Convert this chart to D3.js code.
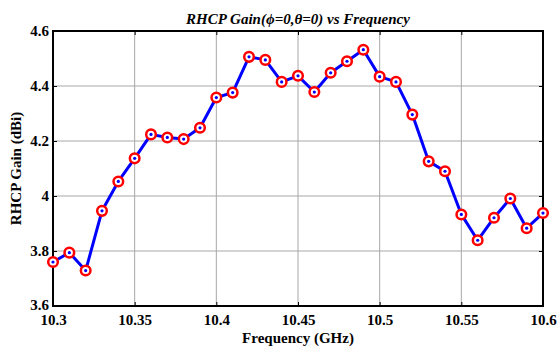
<!DOCTYPE html>
<html>
<head>
<meta charset="utf-8">
<script src="https://cdn.jsdelivr.net/npm/d3@7"></script>
<style>
  html, body { margin: 0; padding: 0; background: #fff; }
  svg { display: block; }
  text { font-family: "Liberation Serif", "Times New Roman", serif; font-weight: bold; fill: #000; }
</style>
</head>
<body>
<svg id="chart" width="560" height="347"></svg>
<script>
// Measured RHCP gain at boresight across the band
const frequency = [10.30, 10.31, 10.32, 10.33, 10.34, 10.35, 10.36, 10.37, 10.38, 10.39,
                   10.40, 10.41, 10.42, 10.43, 10.44, 10.45, 10.46, 10.47, 10.48, 10.49,
                   10.50, 10.51, 10.52, 10.53, 10.54, 10.55, 10.56, 10.57, 10.58, 10.59, 10.60];
const gain = [3.760, 3.794, 3.729, 3.946, 4.053, 4.137, 4.224, 4.213, 4.207, 4.248,
              4.358, 4.376, 4.506, 4.495, 4.415, 4.437, 4.378, 4.448, 4.490, 4.532,
              4.434, 4.415, 4.296, 4.126, 4.090, 3.933, 3.839, 3.921, 3.991, 3.883, 3.938];
const xTicks = [10.3, 10.35, 10.4, 10.45, 10.5, 10.55, 10.6];
const xTickLabels = ["10.3", "10.35", "10.4", "10.45", "10.5", "10.55", "10.6"];
const yTicks = [3.6, 3.8, 4.0, 4.2, 4.4, 4.6];
const yTickLabels = ["3.6", "3.8", "4", "4.2", "4.4", "4.6"];

const svg = d3.select("#chart");
const plotL = 53, plotR = 543, plotT = 31, plotB = 306;

const x = d3.scaleLinear().domain([10.3, 10.6]).range([plotL, plotR]);
const y = d3.scaleLinear().domain([3.6, 4.6]).range([plotB, plotT]);

// grid lines
const grid = svg.append("g");
grid.selectAll("line.gx").data(xTicks.slice(1, -1)).join("line")
  .attr("x1", d => x(d)).attr("x2", d => x(d))
  .attr("y1", plotT).attr("y2", plotB)
  .attr("stroke", "#a8a8a8").attr("stroke-width", 1);
grid.selectAll("line.gy").data(yTicks.slice(1, -1)).join("line")
  .attr("x1", plotL).attr("x2", plotR)
  .attr("y1", d => y(d)).attr("y2", d => y(d))
  .attr("stroke", "#a8a8a8").attr("stroke-width", 1);

// axes with inward ticks on all four sides
const fmtX = (d, i) => xTickLabels[i];
const fmtY = (d, i) => yTickLabels[i];
const axB = svg.append("g").attr("transform", `translate(0,${plotB})`)
  .call(d3.axisBottom(x).tickValues(xTicks).tickFormat(fmtX).tickSizeInner(-4).tickSizeOuter(0).tickPadding(8));
const axL = svg.append("g").attr("transform", `translate(${plotL},0)`)
  .call(d3.axisLeft(y).tickValues(yTicks).tickFormat(fmtY).tickSizeInner(-4).tickSizeOuter(0).tickPadding(4));
const axT = svg.append("g").attr("transform", `translate(0,${plotT})`)
  .call(d3.axisTop(x).tickValues(xTicks).tickFormat("").tickSizeInner(-4).tickSizeOuter(0));
const axR = svg.append("g").attr("transform", `translate(${plotR},0)`)
  .call(d3.axisRight(y).tickValues(yTicks).tickFormat("").tickSizeInner(-4).tickSizeOuter(0));

[axB, axL, axT, axR].forEach(a => {
  a.select(".domain").remove();
  a.selectAll(".tick line").attr("stroke", "#000").attr("stroke-width", 1);
  a.selectAll("text").attr("font-size", 15).attr("font-family", "Liberation Serif").attr("font-weight", "bold").attr("fill", "#000");
});
axB.selectAll("text").attr("dy", "0.71em");
// lift the lowest y label a little so it clears the first x label
axL.selectAll(".tick text").filter(d => d === yTicks[0]).attr("dy", "0.2em");

// plot box
svg.append("rect")
  .attr("x", plotL).attr("y", plotT)
  .attr("width", plotR - plotL).attr("height", plotB - plotT)
  .attr("fill", "none").attr("stroke", "#000").attr("stroke-width", 2);

// series
const pts = frequency.map((f, i) => [f, gain[i]]);
svg.append("path").datum(pts)
  .attr("d", d3.line().x(d => x(d[0])).y(d => y(d[1])))
  .attr("fill", "none").attr("stroke", "#0000ff").attr("stroke-width", 3)
  .attr("stroke-linejoin", "round");
svg.append("g").selectAll("circle").data(pts).join("circle")
  .attr("cx", d => x(d[0])).attr("cy", d => y(d[1])).attr("r", 4.8)
  .attr("fill", "#fff").attr("stroke", "#ff0000").attr("stroke-width", 2.5);
svg.append("g").selectAll("circle").data(pts).join("circle")
  .attr("cx", d => x(d[0])).attr("cy", d => y(d[1])).attr("r", 1.6)
  .attr("fill", "#0000ff");

// titles
svg.append("text")
  .attr("x", (plotL + plotR) / 2).attr("y", 24)
  .attr("text-anchor", "middle").attr("font-size", 15).attr("font-style", "italic")
  .text("RHCP Gain(\u03D5=0,\u03B8=0) vs Frequency");
svg.append("text")
  .attr("x", (plotL + plotR) / 2).attr("y", 343)
  .attr("text-anchor", "middle").attr("font-size", 15)
  .text("Frequency (GHz)");
svg.append("text")
  .attr("transform", `translate(21,${(plotT + plotB) / 2}) rotate(-90)`)
  .attr("text-anchor", "middle").attr("font-size", 15)
  .text("RHCP Gain (dBi)");
</script>
</body>
</html>
